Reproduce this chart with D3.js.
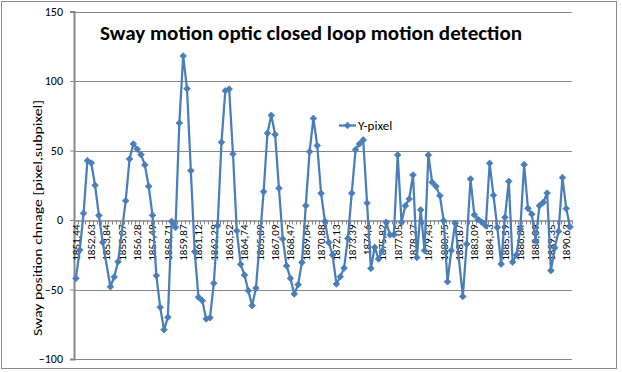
<!DOCTYPE html>
<html>
<head>
<meta charset="utf-8">
<script src="https://cdn.jsdelivr.net/npm/d3@7"></script>
<style>
  html, body { margin: 0; padding: 0; background: #fff; }
  svg { display: block; }
  text { font-family: Carlito, Calibri, Lato, "Liberation Sans", sans-serif; fill: #000; }
</style>
</head>
<body>
<svg id="chart" width="622" height="372"></svg>
<script>
// ---- data ----
const title = "Sway motion optic closed loop motion detection";
const yTitle = "Sway position chnage [pixel,subpixel]";
const seriesName = "Y-pixel";
// category labels shown on the axis (every 4th sample)
const tickLabels = ["1851,44","1852,63","1853,84","1855,07","1856,28","1857,49","1858,71","1859,87",
  "1861,12","1862,29","1863,52","1864,74","1865,89","1867,09","1868,47","1869,64","1870,88",
  "1872,13","1873,39","1874,6","1875,82","1877,05","1878,27","1879,43","1880,75","1881,87",
  "1883,09","1884,33","1885,59","1886,84","1888,09","1889,35","1890,63"];
const labelEvery = 4;
// Y-pixel values per sample (null = no visible marker, line drawn through)
const yPixel = [
  -42, -21.6, 4.8, 42.7, 41, 25, 3.3, -16, null, -48,
  -41, -30, null, 13.9, 43.9, 54.7, 51, 47, 39.6, 24.2,
  3.4, -40, -62.8, -79, -70, -1, -5.3, 69.8, 118, 94.5,
  35.5, -22.8, -55.6, -58, -71.2, -70.3, -45.5, -4.1, 55.9, 93,
  94.2, 47.5, -7.7, -31.9, -39.6, -50.8, -61.6, -49, null, 20.4,
  62.4, 75.3, 61.5, 22.8, -13.7, -33, -42, -53.2, -46.5, -30.5,
  10.3, 49.2, 73.1, 53.5, 19.2, -1, -16.1, -25.2, -46, -40.8,
  -34.6, -13.2, 19.3, 50.6, 54.7, 57.6, 12.2, -34.8, -19.7, -28,
  -22, -1.7, -10.7, -10.6, 46.8, -1.7, 10.2, 15.1, 32.4, -27,
  7.3, -22, 46.8, 27.1, 24.2, 17.5, -0.5, -44.4, -22, -2.3,
  null, -55, -17.3, 29.5, 3.7, 0.3, -1.7, -4.2, 40.8, 17.8,
  -5.3, -31.7, 1.9, 27.8, -30.3, -25.2, -6.5, 39.8, 8.4, 4.2,
  -14.9, 10.3, 12.7, 19.4, -36.4, -20, -8.2, 30.5, 8.2, -5
];
const yTicks = [-100, -50, 0, 50, 100, 150];

// ---- drawing ----
const svg = d3.select("#chart");
const plot = { left: 74, right: 572, top: 11.5, bottom: 359 };
const blue = "#4a7ebb";
const gridColor = "#878787";

// outer chart border
svg.append("rect").attr("x", 1.5).attr("y", 1.5).attr("width", 615).attr("height", 367)
  .attr("fill", "#fff").attr("stroke", "#8c8c8c").attr("stroke-width", 1);

const x = d3.scaleBand().domain(d3.range(yPixel.length)).range([plot.left, plot.right]);
const y = d3.scaleLinear().domain([-100, 150]).range([plot.bottom, plot.top]);

// gridlines
svg.append("g").selectAll("line").data(yTicks.filter(t => t !== 0)).join("line")
  .attr("x1", plot.left).attr("x2", plot.right)
  .attr("y1", d => Math.round(y(d)) + 0.5).attr("y2", d => Math.round(y(d)) + 0.5)
  .attr("stroke", gridColor).attr("stroke-width", 1);

// y axis
const yAxis = svg.append("g").attr("transform", `translate(${plot.left},0)`)
  .call(d3.axisLeft(y).tickValues(yTicks).tickSize(4).tickPadding(7).tickFormat(d3.format("d")));
yAxis.select(".domain").attr("stroke", gridColor).attr("stroke-width", 2);
yAxis.selectAll(".tick line").attr("stroke", gridColor);
yAxis.selectAll(".tick text").attr("font-size", 12).attr("font-family", "Carlito, Calibri, Lato, sans-serif").attr("fill", "#000");

// category axis along y = 0
const y0 = Math.round(y(0)) + 0.5;
const xAxis = svg.append("g").attr("transform", `translate(0,${y0})`)
  .call(d3.axisBottom(x).tickSize(0).tickFormat(i => i % labelEvery === 0 ? tickLabels[i / labelEvery] : ""));
xAxis.select(".domain").attr("stroke", gridColor).attr("stroke-width", 1.5);
xAxis.selectAll(".tick text")
  .attr("font-size", 11).attr("font-family", "Carlito, Calibri, Lato, sans-serif").attr("fill", "#000")
  .attr("text-anchor", "end").attr("dy", "0.35em")
  .attr("transform", "translate(0,4) rotate(-90)")
  .attr("x", 0).attr("y", 0);
// tick marks at category boundaries
svg.append("g").selectAll("line").data(d3.range(yPixel.length + 1)).join("line")
  .attr("x1", i => Math.round(plot.left + i * x.step()) + 0.5)
  .attr("x2", i => Math.round(plot.left + i * x.step()) + 0.5)
  .attr("y1", y0).attr("y2", y0 + 4)
  .attr("stroke", gridColor).attr("stroke-width", 1);

// series line + markers
const pts = yPixel.map((v, i) => ({ i, v })).filter(d => d.v !== null);
const line = d3.line().x(d => x(d.i) + x.bandwidth() / 2).y(d => y(d.v));
svg.append("path").datum(pts).attr("d", line)
  .attr("fill", "none").attr("stroke", blue).attr("stroke-width", 2.25).attr("stroke-linejoin", "round");
const marker = d3.symbol(d3.symbolSquare, 22);
svg.append("g").selectAll("path").data(pts).join("path")
  .attr("d", marker)
  .attr("transform", d => `translate(${x(d.i) + x.bandwidth() / 2},${y(d.v)}) rotate(45)`)
  .attr("fill", blue).attr("stroke", blue).attr("stroke-width", 0.8);

// title
svg.append("text").attr("x", 100).attr("y", 40)
  .attr("font-size", 21).attr("font-weight", "bold")
  .attr("textLength", 422).attr("lengthAdjust", "spacingAndGlyphs")
  .text(title);

// y axis title
svg.append("text")
  .attr("transform", "translate(42,218) rotate(-90)")
  .attr("text-anchor", "middle")
  .attr("font-size", 13)
  .attr("textLength", 236).attr("lengthAdjust", "spacingAndGlyphs")
  .text(yTitle);

// legend
const lg = svg.append("g").attr("transform", "translate(339,125.5)");
lg.append("line").attr("x1", 0).attr("x2", 17).attr("y1", 0).attr("y2", 0)
  .attr("stroke", blue).attr("stroke-width", 2.25);
lg.append("path").attr("d", marker).attr("transform", "translate(8.5,0) rotate(45)")
  .attr("fill", blue).attr("stroke", blue).attr("stroke-width", 0.8);
lg.append("text").attr("x", 19).attr("y", 0).attr("dy", "0.35em")
  .attr("font-size", 13).text(seriesName);
</script>
</body>
</html>
